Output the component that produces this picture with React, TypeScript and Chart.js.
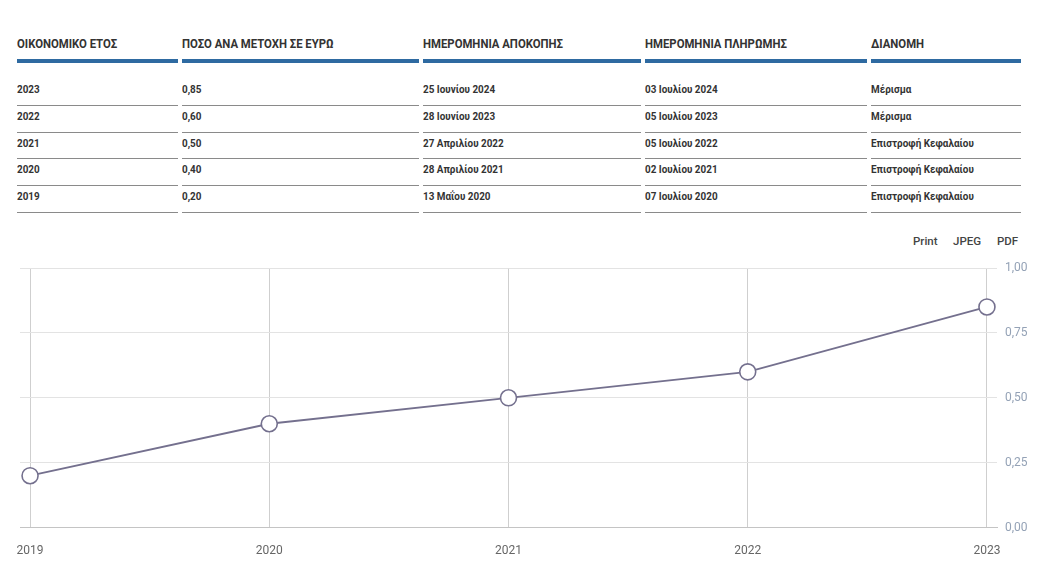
import React, { useEffect, useRef } from "react";
import { Chart, registerables } from "chart.js";

Chart.register(...registerables);

const headers = ["ΟΙΚΟΝΟΜΙΚΟ ΕΤΟΣ", "ΠΟΣΟ ΑΝΑ ΜΕΤΟΧΗ ΣΕ ΕΥΡΩ", "ΗΜΕΡΟΜΗΝΙΑ ΑΠΟΚΟΠΗΣ", "ΗΜΕΡΟΜΗΝΙΑ ΠΛΗΡΩΜΗΣ", "ΔΙΑΝΟΜΗ"];
const tableYears = ["2023", "2022", "2021", "2020", "2019"];
const tableAmounts = ["0,85", "0,60", "0,50", "0,40", "0,20"];
const exDates = ["25 Ιουνίου 2024", "28 Ιουνίου 2023", "27 Απριλίου 2022", "28 Απριλίου 2021", "13 Μαΐου 2020"];
const payDates = ["03 Ιουλίου 2024", "05 Ιουλίου 2023", "05 Ιουλίου 2022", "02 Ιουλίου 2021", "07 Ιουλίου 2020"];
const distTypes = ["Μέρισμα", "Μέρισμα", "Επιστροφή Κεφαλαίου", "Επιστροφή Κεφαλαίου", "Επιστροφή Κεφαλαίου"];

const chartYears = [2019, 2020, 2021, 2022, 2023];
const chartValues = [0.2, 0.4, 0.5, 0.6, 0.85];
const yTicks = [0, 0.25, 0.5, 0.75, 1];
const exportLabels = ["Print", "JPEG", "PDF"];

const colLeft = [17, 182, 423, 645, 871];
const colWidth = [161, 237, 218, 222, 150];
const rowTextY = [89, 116, 143, 169, 196];
const rowLineY = [105, 132, 158, 185, 212];

const FONT = "Roboto, 'Noto Sans', sans-serif";
const TEXT = "#333333";

function Cell({ x, y, w, text, size, color }: { x: number; y: number; w: number; text: string; size: number; color: string }) {
  return (
    <div
      style={{
        position: "absolute",
        left: x,
        top: y - 10,
        width: w,
        height: 20,
        lineHeight: "20px",
        fontFamily: FONT,
        fontWeight: 700,
        fontSize: size,
        color,
        whiteSpace: "nowrap",
      }}
    >
      <span style={{ display: "inline-block", transform: "scaleX(0.86)", transformOrigin: "left center" }}>{text}</span>
    </div>
  );
}

export default function App() {
  const ref = useRef<HTMLCanvasElement | null>(null);

  useEffect(() => {
    if (!ref.current) return;
    const xPad = 0.042;
    const chart = new Chart(ref.current, {
      type: "line",
      data: {
        datasets: [
          {
            data: chartYears.map((y, i) => ({ x: y, y: chartValues[i] })),
            borderColor: "#74708e",
            borderWidth: 1.8,
            pointRadius: 8,
            pointHoverRadius: 8,
            pointBackgroundColor: "#ffffff",
            pointBorderColor: "#74708e",
            pointBorderWidth: 1.6,
            tension: 0,
            clip: false as any,
          },
        ],
      },
      options: {
        animation: false,
        responsive: false,
        maintainAspectRatio: false,
        layout: { padding: { left: 20, right: 0, top: 18, bottom: 1 } },
        plugins: { legend: { display: false }, tooltip: { enabled: false } },
        scales: {
          x: {
            type: "linear",
            min: chartYears[0] - xPad,
            max: chartYears[chartYears.length - 1] + xPad,
            afterBuildTicks: (scale: any) => {
              scale.ticks = chartYears.map((v) => ({ value: v }));
            },
            grid: { color: "#cfcfcf", lineWidth: 1, drawTicks: false },
            border: { color: "#c4c4c4", width: 1 },
            ticks: {
              padding: 16,
              color: "#666666",
              font: { family: FONT, size: 12 },
              maxRotation: 0,
              autoSkip: false,
              callback: (v: any) => String(v),
            },
          },
          y: {
            position: "right",
            min: 0,
            max: 1,
            afterBuildTicks: (scale: any) => {
              scale.ticks = yTicks.map((v) => ({ value: v }));
            },
            afterFit: (scale: any) => {
              scale.width = 40;
            },
            grid: { color: "#e3e3e3", lineWidth: 1, drawTicks: false },
            border: { display: false },
            ticks: {
              padding: 8,
              color: "#94a2b6",
              font: { family: FONT, size: 12 },
              callback: (v: any) => Number(v).toFixed(2).replace(".", ","),
            },
          },
        },
      },
    });
    return () => chart.destroy();
  }, []);

  return (
    <div style={{ position: "absolute", left: 0, top: 0, width: 1037, height: 575, background: "#fff", overflow: "hidden" }}>
      {headers.map((h, c) => (
        <React.Fragment key={"h" + c}>
          <Cell x={colLeft[c]} y={44} w={colWidth[c]} text={h} size={13.2} color={TEXT} />
          <div style={{ position: "absolute", left: colLeft[c], top: 59, width: colWidth[c], height: 4, background: "#2e6aa1" }} />
        </React.Fragment>
      ))}
      {tableYears.map((_, r) => {
        const vals = [tableYears[r], tableAmounts[r], exDates[r], payDates[r], distTypes[r]];
        return (
          <React.Fragment key={"r" + r}>
            {vals.map((v, c) => (
              <React.Fragment key={c}>
                <Cell x={colLeft[c]} y={rowTextY[r]} w={colWidth[c]} text={v} size={11.5} color={TEXT} />
                <div style={{ position: "absolute", left: colLeft[c], top: rowLineY[r], width: colWidth[c], height: 1, background: "#8a8a8a" }} />
              </React.Fragment>
            ))}
          </React.Fragment>
        );
      })}
      <div style={{ position: "absolute", top: 233, left: 0, width: 1037, height: 16 }}>
        {exportLabels.map((t, i) => (
          <span
            key={t}
            style={{
              position: "absolute",
              left: [913, 953, 997][i],
              top: 0,
              lineHeight: "16px",
              fontFamily: FONT,
              fontWeight: 500,
              fontSize: 11.5,
              color: "#444",
            }}
          >
            {t}
          </span>
        ))}
      </div>
      <canvas ref={ref} width={1037} height={325} style={{ position: "absolute", left: 0, top: 250, width: 1037, height: 325 }} />
    </div>
  );
}
